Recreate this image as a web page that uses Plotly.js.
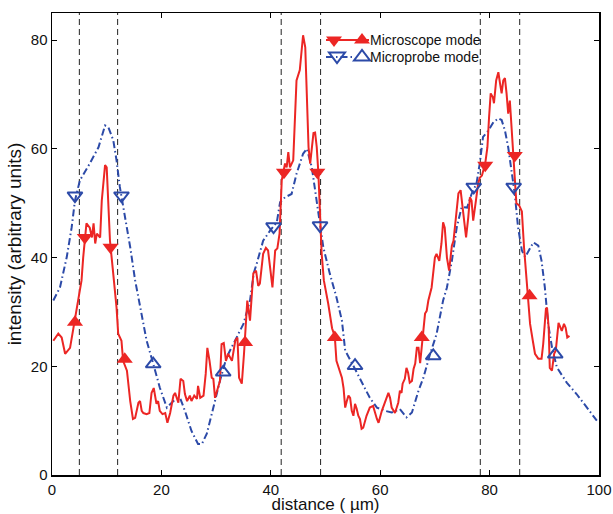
<!DOCTYPE html>
<html>
<head>
<meta charset="utf-8">
<script src="https://cdn.plot.ly/plotly-3.0.1.min.js"></script>
<style>
html,body{margin:0;padding:0;background:#fff;}
#chart{width:613px;height:514px;}
</style>
</head>
<body>
<div id="chart"></div>
<script>
// ---- data ----
const redX = [0.24,1.15,1.77,2.4,3.3,3.9,4.8,5.4,5.7,6.0,6.3,6.9,7.3,7.6,7.9,8.2,8.8,9.1,9.7,10.0,10.3,10.6,11.2,11.8,12.1,12.7,13.0,13.7,14.3,14.8,15.2,15.8,16.1,16.4,16.7,17.3,17.8,18.2,18.6,19.1,19.4,19.7,20.2,20.7,21.1,21.6,22.2,22.5,23.1,23.5,24.0,24.3,24.7,25.2,25.5,26.0,26.5,26.7,27.1,27.7,28.1,28.4,28.8,29.2,29.5,29.8,30.7,31.0,31.4,31.8,32.2,32.9,33.5,33.9,34.2,34.7,35.1,35.5,35.7,36.2,36.5,36.8,37.3,37.7,38.0,38.6,39.1,39.5,40.0,40.3,40.8,41.2,41.6,41.8,42.0,42.6,42.9,43.2,43.5,44.1,44.7,45.3,45.9,46.3,46.6,46.9,47.2,47.8,48.1,48.4,48.7,49.0,49.3,49.7,50.2,50.5,51.2,51.7,52.0,53.0,53.3,53.6,53.9,54.2,54.5,54.8,55.1,55.4,55.7,56.0,56.3,56.6,56.9,57.2,57.5,58.1,58.7,59.4,59.7,60.3,60.9,61.5,61.8,62.1,62.7,63.0,63.3,63.6,63.9,64.1,64.5,64.8,65.1,65.4,65.8,66.1,66.4,66.7,67.0,67.3,67.6,67.9,68.2,68.5,68.8,69.4,69.7,70.0,70.3,70.8,71.2,71.5,71.8,72.2,72.6,73.1,73.4,73.9,74.3,74.7,75.1,75.4,75.7,76.1,76.4,76.7,77.0,77.5,77.9,78.2,78.6,79.2,79.6,79.9,80.2,80.6,80.8,81.2,81.6,81.9,82.2,82.5,82.8,83.1,83.4,83.7,84.0,84.3,84.6,84.9,85.4,85.9,86.3,86.7,87.1,87.4,87.9,88.3,88.9,89.5,89.8,90.3,90.5,90.8,91.0,91.4,91.8,92.1,92.6,92.9,93.2,93.6,93.9,94.2,94.6];
const redY = [24.7,26,25.3,22.3,23.4,27.1,32.1,35.8,40,43.1,46.3,45.5,43.7,46.3,42.6,44.4,43.7,50.5,57,56.6,50.5,43.1,37,30.8,26,24.7,21.0,19.2,13.6,10.3,10.5,13.3,13.6,11.8,11.4,11.2,11.4,15.1,16,13.1,13.6,11.8,11.2,11.4,9.6,11.4,14.6,15.1,13.3,17.7,17.3,14.9,13.6,14.6,13.6,14.6,14,16.4,14.2,14.6,18.6,23.4,21,17.9,17.7,14.2,17.3,24.1,24.3,21,22.3,21,24.7,25.3,17.9,16.8,22.3,27.8,32.1,28.4,33.9,37.1,37.6,34.8,35.2,40.7,41.8,41.3,37.1,34.5,41.3,41.7,44.4,50.5,54.2,57.3,56.6,59.4,56.6,57.9,72.6,74.5,80.9,78.7,68.4,60.3,57.3,62.9,63,60.3,55.5,46.8,40.7,35.8,33.4,31.5,27,25.5,21,17.9,16,12.4,13.6,14.6,14.2,11.8,10.9,13.1,12.2,10.9,10.3,8.5,8.7,10,10.9,12.4,12.7,10.3,9.6,11.8,13.6,15.1,14.2,12.4,11.4,12.2,13.3,15.5,15.1,16.8,17.7,19.7,18.8,17,17.3,19.5,20.5,23.4,23.4,20.6,24.1,27.8,29.7,30.2,32.1,34.5,37.6,40,40.7,39.4,42.6,46.5,45.5,40,37.6,42.2,43.1,47.4,51.8,52.4,49.2,46.8,43.7,47.4,51.1,50.5,46.8,50.5,53.6,54.7,55.1,57.3,60.3,65.8,70.2,69.5,68.4,72.6,74.1,72.1,70.2,72.6,73,70.2,66.5,68.9,64,58.4,52.9,50,49.6,48.5,41.8,36.3,32.6,27.8,24.7,22.3,21.4,21.4,24.1,30.6,30.8,27.1,19.7,19.2,22.3,22.9,28,27.1,26.5,27.8,27.1,25.3,25.6];

const blueX = [0.24,1.46,2.7,3.6,4.2,5.1,6.9,8.5,9.7,10.3,11.2,11.8,12.4,13.3,14.3,15.2,16.1,17.3,18.5,19.7,21.0,22.2,23.4,24.3,25.5,26.7,27.4,28.3,29.5,30.7,31.9,33.5,35.0,36.2,36.9,37.4,38.6,39.9,41.1,41.7,42.6,43.8,44.7,45.9,46.6,47.5,48.4,49.0,49.6,50.8,52.0,53.0,53.6,55.4,56.9,58.1,59.4,60.9,62.1,63.6,64.8,65.8,67.0,67.9,69.1,70.3,71.5,72.2,73.1,74.0,74.9,75.9,76.7,77.6,78.2,78.8,79.8,80.7,81.6,82.2,82.8,83.4,84.0,84.6,85.2,85.9,86.5,87.1,88.0,88.9,89.5,90.1,90.7,91.4,92.3,94.1,95.9,97.8,99.6];
const blueY = [32.1,34.5,40.1,45.6,50.5,54.2,57.3,60.3,64.3,64,61.6,57.9,53,48.1,41.9,35.8,30.8,24.7,20.5,16.1,12.4,13.6,14.2,11.8,8.1,5.7,5.7,7.6,12.4,17.3,21.6,24.7,27.8,32.1,37.2,38.8,43.1,45,46.5,50.2,51.1,51.7,55.4,59.1,60,56.6,50.5,46.3,41.9,37,32.7,28.4,22.9,19.5,16.7,14.2,12.4,11.8,11.5,12.1,10.6,11.5,15.5,17.9,22.2,25.9,32.1,34.5,39.4,45.6,49.3,49.2,51.7,53.6,57.3,62.2,63.4,64.9,65.6,65.3,63.4,60.3,56,51.7,45.6,41.3,40.1,41.3,42.8,42.2,39.4,34.5,27.8,23.5,19.8,17,14.9,12.4,10];

const redUpX = [4.2,13.3,35.3,51.7,67.6,87.3];
const redUpY = [28.1,21.3,24.4,25.3,25.3,33];
const redDownX = [6.0,10.7,42.4,48.5,79.2,84.6];
const redDownY = [43.7,41.9,55.7,55.7,57,58.8];

const blueUpX = [18.5,31.3,55.4,69.7,92.0];
const blueUpY = [20.4,18.9,20.1,21.9,22.2];
const blueDownX = [4.2,12.7,40.5,49.0,77.1,84.4];
const blueDownY = [51.4,51.4,45.7,45.9,53,53];

const boundaryX = [5.0,12.0,41.9,49.1,78.3,85.5];

const seriesNames = ['Microscope mode','Microprobe mode'];
const xTitle = 'distance ( \u00b5m)';
const yTitle = 'intensity (arbitrary units)';

// ---- styles ----
const RED = 'rgb(236,38,36)';
const BLUE = 'rgb(44,74,168)';
const FONT = 'Liberation Sans, Arial, sans-serif';

const traces = [
  {x: blueX, y: blueY, mode: 'lines', line: {color: BLUE, width: 2, dash: '7px,3px,1.5px,3px'}, showlegend: false},
  {x: redX, y: redY, mode: 'lines', line: {color: RED, width: 2}, showlegend: false},
  {x: redUpX, y: redUpY, mode: 'markers', marker: {symbol: 'triangle-up', size: 14, color: RED}, showlegend: false},
  {x: redDownX, y: redDownY, mode: 'markers', marker: {symbol: 'triangle-down', size: 14, color: RED}, showlegend: false},
  {x: blueUpX, y: blueUpY, mode: 'markers', marker: {symbol: 'triangle-up-open', size: 13, color: BLUE, line: {width: 2, color: BLUE}}, showlegend: false},
  {x: blueDownX, y: blueDownY, mode: 'markers', marker: {symbol: 'triangle-down-open', size: 13, color: BLUE, line: {width: 2, color: BLUE}}, showlegend: false}
];

// plot-area pixel helpers for the hand-drawn legend
const L = 52, R = 14, T = 13, B = 39, W = 613, H = 514;
const pw = W - L - R, ph = H - T - B;
const px = v => (v - L) / pw;
const py = v => (H - B - v) / ph;

const shapes = boundaryX.map(xv => ({
  type: 'line', xref: 'x', yref: 'paper', x0: xv, x1: xv, y0: 0, y1: 1,
  line: {color: '#222', width: 1, dash: '6px,4px'}, layer: 'below'
}));

function tri(cx, cy, up, filled, color) {
  const p = up ? 'M-8,-3.5 L8,-3.5 L0,7 Z' : 'M-8,3.5 L8,3.5 L0,-7 Z';
  return {type: 'path', xref: 'paper', yref: 'paper', xsizemode: 'pixel', ysizemode: 'pixel',
    xanchor: px(cx), yanchor: py(cy), path: p,
    fillcolor: filled ? color : 'rgba(0,0,0,0)', line: {color: color, width: filled ? 0 : 2}};
}
// legend row 1 (red)
shapes.push({type: 'line', xref: 'paper', yref: 'paper', x0: px(326), x1: px(369), y0: py(40), y1: py(40), line: {color: RED, width: 2}});
shapes.push(tri(334, 40, false, true, RED));
shapes.push(tri(362, 40, true, true, RED));
// legend row 2 (blue)
shapes.push({type: 'line', xref: 'paper', yref: 'paper', x0: px(326), x1: px(354), y0: py(57), y1: py(57), line: {color: BLUE, width: 2, dash: '7px,3px,1.5px,3px'}});
shapes.push(tri(337, 56, false, false, BLUE));
shapes.push(tri(362, 57, true, false, BLUE));

const annotations = [
  {xref: 'paper', yref: 'paper', x: px(368), y: py(40), xanchor: 'left', yanchor: 'middle', text: seriesNames[0], showarrow: false, font: {family: FONT, size: 14, color: '#111'}},
  {xref: 'paper', yref: 'paper', x: px(368), y: py(57), xanchor: 'left', yanchor: 'middle', text: seriesNames[1], showarrow: false, font: {family: FONT, size: 14, color: '#111'}}
];

const axisCommon = {
  showline: true, linecolor: '#000', linewidth: 1.5, mirror: 'ticks',
  ticks: 'inside', ticklen: 5, tickwidth: 1, tickcolor: '#000',
  showgrid: false, zeroline: false,
  tickfont: {family: FONT, size: 15, color: '#111'}
};

const layout = {
  width: W, height: H,
  margin: {l: L, r: R, t: T, b: B},
  paper_bgcolor: '#fff', plot_bgcolor: '#fff',
  showlegend: false,
  font: {family: FONT, color: '#111'},
  xaxis: Object.assign({}, axisCommon, {range: [0, 100], dtick: 20, title: {text: xTitle, font: {family: FONT, size: 17, color: '#111'}, standoff: 2}}),
  yaxis: Object.assign({}, axisCommon, {range: [0, 85], tickvals: [0, 20, 40, 60, 80], title: {text: yTitle, font: {family: FONT, size: 19, color: '#111'}, standoff: 4}}),
  shapes: shapes,
  annotations: annotations
};

Plotly.newPlot('chart', traces, layout, {staticPlot: true, displayModeBar: false});
</script>
</body>
</html>
